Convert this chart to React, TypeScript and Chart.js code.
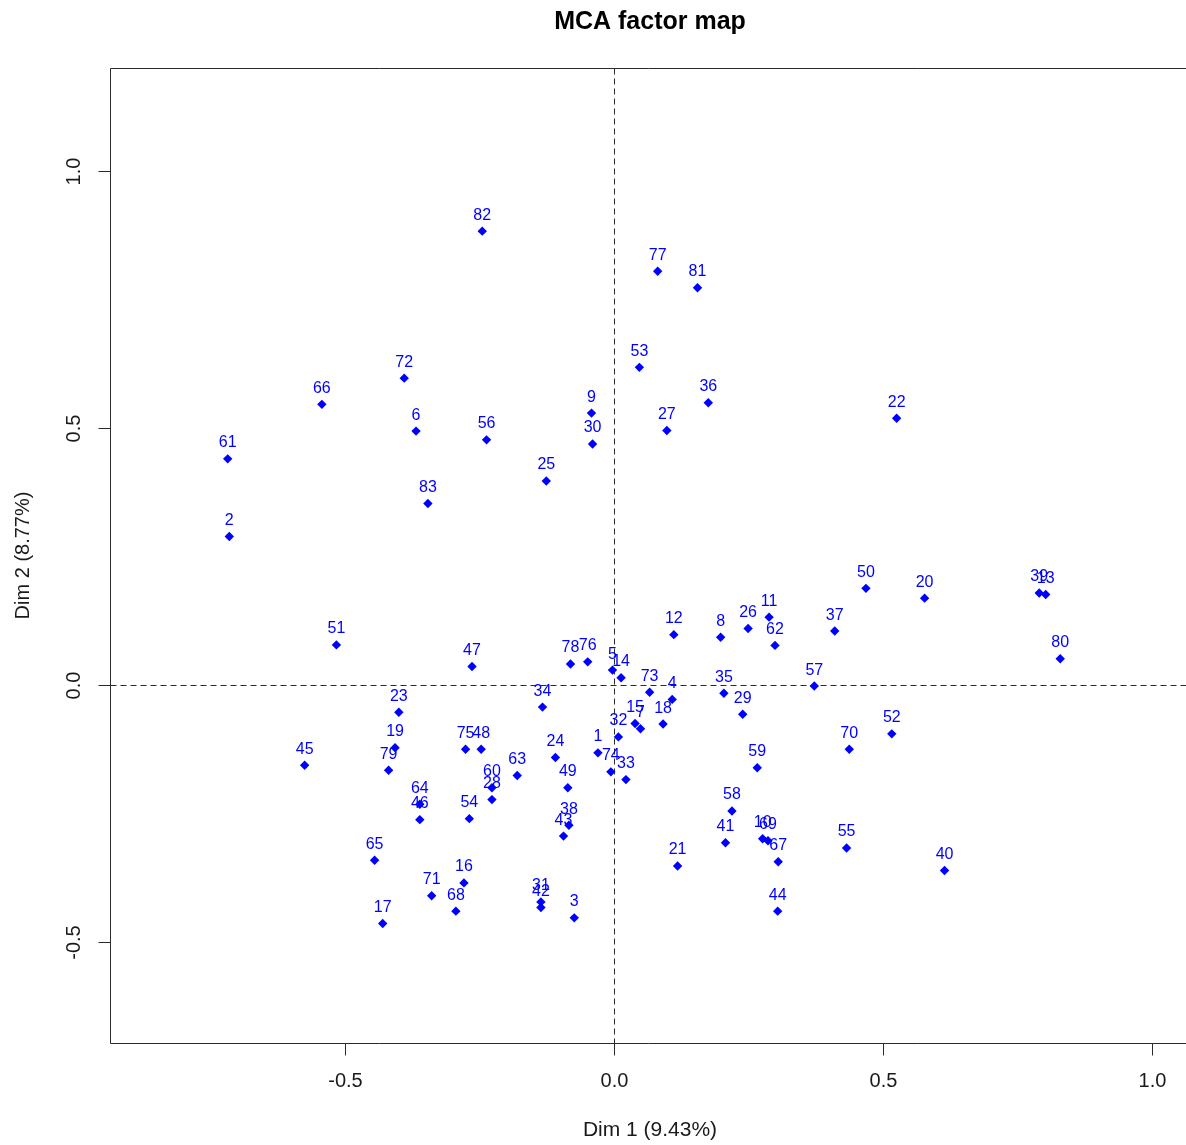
import { useEffect, useRef } from "react";
import { Chart, registerables } from "chart.js";

Chart.register(...registerables);

// Individual labels (row names)
const pointLabels = [
  "1","2","3","4","5","6","7","8","9","10",
  "11","12","13","14","15","16","17","18","19","20",
  "21","22","23","24","25","26","27","28","29","30",
  "31","32","33","34","35","36","37","38","39","40",
  "41","42","43","44","45","46","47","48","49","50",
  "51","52","53","54","55","56","57","58","59","60",
  "61","62","63","64","65","66","67","68","69","70",
  "71","72","73","74","75","76","77","78","79","80",
  "81","82","83",
];

// Dim 1 coordinates
const dim1Values = [
  -0.030, -0.715, -0.074, 0.108, -0.003, -0.368, 0.049, 0.198, -0.042, 0.276,
  0.288, 0.111, 0.802, 0.013, 0.039, -0.279, -0.430, 0.091, -0.407, 0.577,
  0.118, 0.525, -0.400, -0.109, -0.126, 0.249, 0.098, -0.227, 0.239, -0.040,
  -0.136, 0.008, 0.022, -0.133, 0.204, 0.175, 0.410, -0.084, 0.790, 0.614,
  0.207, -0.136, -0.094, 0.304, -0.575, -0.361, -0.264, -0.247, -0.086, 0.468,
  -0.516, 0.516, 0.047, -0.269, 0.432, -0.237, 0.372, 0.219, 0.266, -0.227,
  -0.718, 0.299, -0.180, -0.361, -0.445, -0.543, 0.305, -0.294, 0.286, 0.437,
  -0.339, -0.390, 0.066, -0.006, -0.276, -0.049, 0.081, -0.081, -0.419, 0.829,
  0.155, -0.245, -0.346,
];

// Dim 2 coordinates
const dim2Values = [
  -0.132, 0.289, -0.453, -0.028, 0.029, 0.494, -0.085, 0.093, 0.529, -0.299,
  0.132, 0.098, 0.176, 0.014, -0.075, -0.385, -0.464, -0.076, -0.122, 0.169,
  -0.352, 0.519, -0.053, -0.141, 0.397, 0.110, 0.495, -0.223, -0.057, 0.469,
  -0.422, -0.101, -0.184, -0.043, -0.016, 0.549, 0.105, -0.273, 0.179, -0.361,
  -0.307, -0.433, -0.294, -0.440, -0.156, -0.262, 0.036, -0.125, -0.200, 0.188,
  0.078, -0.095, 0.618, -0.260, -0.317, 0.477, -0.002, -0.245, -0.161, -0.200,
  0.440, 0.077, -0.176, -0.232, -0.341, 0.546, -0.344, -0.440, -0.303, -0.125,
  -0.410, 0.597, -0.014, -0.169, -0.125, 0.045, 0.805, 0.041, -0.166, 0.051,
  0.773, 0.883, 0.353,
];

const xTickValues = [-0.5, 0, 0.5, 1.0];
const xTickLabels = ["-0.5", "0.0", "0.5", "1.0"];
const yTickValues = [-0.5, 0, 0.5, 1.0];
const yTickLabels = ["-0.5", "0.0", "0.5", "1.0"];

const chartTitle = "MCA factor map";
const xAxisTitle = "Dim 1 (9.43%)";
const yAxisTitle = "Dim 2 (8.77%)";

const FONT = '"Liberation Sans", Arial, Helvetica, sans-serif';
const POINT_COLOR = "#0000ff";
const LINE_COLOR = "#2b2b2b";

const rPlotPlugin = {
  id: "rPlot",
  beforeDatasetsDraw(chart: any) {
    const { ctx, chartArea, scales } = chart;
    const xs = scales.x;
    const ys = scales.y;
    const left = Math.round(chartArea.left) + 0.5;
    const top = Math.round(chartArea.top) + 0.5;
    const bottom = Math.round(chartArea.bottom) + 0.5;
    const right = chartArea.right + 5;
    ctx.save();

    // dashed reference lines
    ctx.strokeStyle = LINE_COLOR;
    ctx.lineWidth = 1;
    ctx.setLineDash([6, 4]);
    const x0 = Math.round(xs.getPixelForValue(0)) + 0.5;
    const y0 = Math.round(ys.getPixelForValue(0)) + 0.5;
    ctx.beginPath();
    ctx.moveTo(x0, top);
    ctx.lineTo(x0, bottom);
    ctx.moveTo(left, y0);
    ctx.lineTo(right, y0);
    ctx.stroke();
    ctx.setLineDash([]);

    // box (right side is beyond the canvas)
    ctx.strokeStyle = LINE_COLOR;
    ctx.beginPath();
    ctx.moveTo(right, top);
    ctx.lineTo(left, top);
    ctx.lineTo(left, bottom);
    ctx.lineTo(right, bottom);
    ctx.stroke();

    // x ticks
    ctx.fillStyle = "#1a1a1a";
    ctx.font = `20px ${FONT}`;
    ctx.textAlign = "center";
    ctx.textBaseline = "middle";
    xTickValues.forEach((v, i) => {
      const px = Math.round(xs.getPixelForValue(v)) + 0.5;
      ctx.beginPath();
      ctx.moveTo(px, bottom);
      ctx.lineTo(px, bottom + 12);
      ctx.stroke();
      ctx.fillText(xTickLabels[i], px, 1081);
    });

    // y ticks (rotated labels)
    yTickValues.forEach((v, i) => {
      const py = Math.round(ys.getPixelForValue(v)) + 0.5;
      ctx.beginPath();
      ctx.moveTo(left, py);
      ctx.lineTo(left - 12, py);
      ctx.stroke();
      ctx.save();
      ctx.translate(74, py);
      ctx.rotate(-Math.PI / 2);
      ctx.fillText(yTickLabels[i], 0, 0);
      ctx.restore();
    });

    // title
    ctx.fillStyle = "#000000";
    ctx.font = `bold 25px ${FONT}`;
    ctx.textBaseline = "alphabetic";
    ctx.fillText(chartTitle, 650, 29);

    // axis titles
    ctx.fillStyle = "#1a1a1a";
    ctx.font = `21px ${FONT}`;
    ctx.textBaseline = "middle";
    ctx.fillText(xAxisTitle, 650, 1130);
    ctx.font = `20px ${FONT}`;
    ctx.save();
    ctx.translate(23, (chartArea.top + chartArea.bottom) / 2);
    ctx.rotate(-Math.PI / 2);
    ctx.fillText(yAxisTitle, 0, 0);
    ctx.restore();

    ctx.restore();
  },
  afterDatasetsDraw(chart: any) {
    const { ctx } = chart;
    const meta = chart.getDatasetMeta(0);
    ctx.save();
    ctx.fillStyle = POINT_COLOR;
    ctx.font = `16px ${FONT}`;
    ctx.textAlign = "center";
    ctx.textBaseline = "alphabetic";
    meta.data.forEach((el: any, i: number) => {
      ctx.fillText(pointLabels[i], el.x, el.y - 11.5);
    });
    ctx.restore();
  },
};

export default function App() {
  const canvasRef = useRef<HTMLCanvasElement | null>(null);

  useEffect(() => {
    const canvas = canvasRef.current;
    if (!canvas) return;
    const chart = new Chart(canvas, {
      type: "scatter",
      data: {
        datasets: [
          {
            label: "individuals",
            data: dim1Values.map((x, i) => ({ x, y: dim2Values[i] })),
            pointStyle: "rectRot",
            pointRadius: 4.7,
            pointHoverRadius: 4.7,
            backgroundColor: POINT_COLOR,
            borderColor: POINT_COLOR,
            borderWidth: 0,
          },
        ],
      },
      options: {
        responsive: false,
        animation: false,
        devicePixelRatio: 1,
        layout: { autoPadding: false, padding: { left: 110, top: 68, right: 0, bottom: 102 } },
        plugins: {
          legend: { display: false },
          title: { display: false },
          tooltip: { enabled: false },
        },
        events: [],
        scales: {
          x: { type: "linear", min: -0.9367, max: 1.0627, display: false },
          y: { type: "linear", min: -0.6965, max: 1.2004, display: false },
        },
      },
      plugins: [rPlotPlugin],
    });
    return () => chart.destroy();
  }, []);

  return (
    <div style={{ position: "fixed", left: 0, top: 0, width: 1186, height: 1145, background: "#ffffff" }}>
      <canvas ref={canvasRef} width={1186} height={1145} style={{ display: "block" }} />
    </div>
  );
}
